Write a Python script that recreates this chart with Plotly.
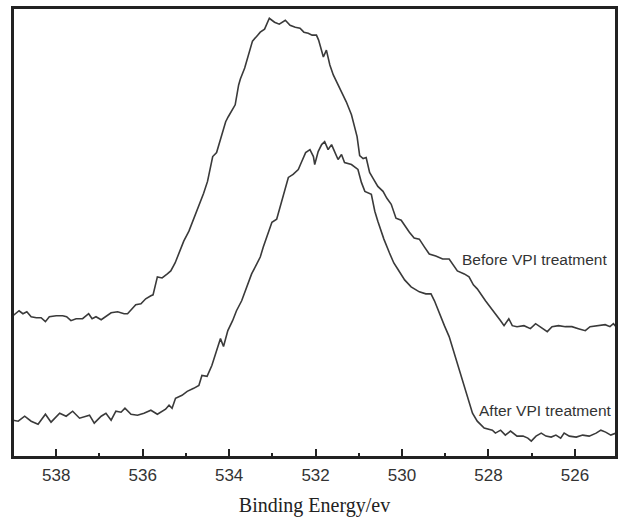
import plotly.graph_objects as go

# Binding energy (eV) and intensity (a.u.)
before_ev = [539.00, 538.86, 538.77, 538.68, 538.58, 538.46, 538.35, 538.25, 538.16, 538.00,
             537.85, 537.76, 537.66, 537.54, 537.39, 537.25, 537.17, 537.08, 536.96, 536.85,
             536.73, 536.58, 536.43, 536.35, 536.27, 536.16, 536.04, 535.93, 535.81, 535.76,
             535.66, 535.55, 535.43, 535.35, 535.25, 535.16, 535.05, 534.93, 534.82, 534.70,
             534.59, 534.50, 534.38, 534.29, 534.20, 534.08, 534.02, 533.86, 533.78, 533.74,
             533.64, 533.55, 533.46, 533.34, 533.28, 533.18, 533.07, 532.95, 532.84, 532.70,
             532.59, 532.47, 532.36, 532.27, 532.17, 532.08, 531.98, 531.93, 531.86, 531.82,
             531.75, 531.67, 531.59, 531.48, 531.36, 531.29, 531.17, 531.09, 531.04, 530.98,
             530.90, 530.83, 530.75, 530.67, 530.56, 530.44, 530.35, 530.25, 530.14, 530.02,
             529.92, 529.83, 529.72, 529.60, 529.48, 529.37, 529.22, 529.06, 528.91, 528.81,
             528.72, 528.56, 528.45, 528.35, 528.26, 528.07, 527.87, 527.72, 527.64, 527.53,
             527.45, 527.34, 527.18, 527.03, 526.91, 526.80, 526.64, 526.53, 526.38, 526.22,
             526.07, 525.92, 525.76, 525.65, 525.49, 525.30, 525.19, 525.11, 525.05]
before_int = [142, 147, 144, 146, 141, 140, 140, 136, 141, 142,
              142, 141, 137, 139, 139, 144, 139, 141, 138, 141,
              145, 146, 144, 144, 148, 153, 154, 159, 162, 163,
              181, 180, 184, 187, 195, 205, 217, 227, 239, 252,
              265, 277, 302, 306, 319, 337, 342, 354, 374, 380,
              391, 405, 418, 424, 427, 430, 441, 437, 435, 439,
              434, 432, 431, 427, 426, 424, 424, 419, 407, 402,
              409, 394, 384, 374, 364, 357, 344, 332, 322, 303,
              300, 301, 286, 280, 272, 267, 260, 254, 240, 238,
              231, 226, 220, 219, 211, 204, 202, 199, 199, 193,
              187, 184, 181, 173, 169, 157, 146, 137, 132, 139,
              132, 131, 132, 129, 134, 131, 126, 131, 132, 131,
              131, 129, 127, 131, 132, 133, 131, 134, 131]

after_ev = [539.00, 538.88, 538.73, 538.58, 538.42, 538.25, 538.12, 537.92, 537.77, 537.62,
            537.46, 537.23, 537.12, 536.96, 536.85, 536.73, 536.62, 536.50, 536.41, 536.27,
            536.12, 535.97, 535.81, 535.66, 535.47, 535.39, 535.32, 535.24, 535.09, 534.97,
            534.82, 534.70, 534.63, 534.51, 534.40, 534.28, 534.20, 534.13, 534.03, 533.92,
            533.83, 533.71, 533.59, 533.48, 533.36, 533.28, 533.21, 533.09, 533.01, 532.90,
            532.82, 532.75, 532.63, 532.52, 532.40, 532.32, 532.23, 532.13, 532.05, 532.02,
            531.94, 531.86, 531.79, 531.71, 531.63, 531.56, 531.48, 531.40, 531.33, 531.17,
            531.02, 530.94, 530.86, 530.71, 530.63, 530.56, 530.42, 530.29, 530.19, 530.10,
            529.94, 529.79, 529.60, 529.45, 529.33, 529.25, 529.14, 529.02, 528.91, 528.79,
            528.68, 528.56, 528.45, 528.37, 528.26, 528.10, 527.91, 527.84, 527.72, 527.61,
            527.49, 527.34, 527.20, 527.09, 527.01, 526.90, 526.78, 526.67, 526.55, 526.44,
            526.33, 526.25, 526.13, 525.97, 525.82, 525.67, 525.51, 525.40, 525.29, 525.17,
            525.05]
after_int = [37, 36, 41, 36, 33, 43, 35, 44, 41, 46,
             39, 42, 34, 41, 44, 37, 46, 45, 49, 43,
             42, 44, 47, 43, 48, 52, 49, 59, 62, 66,
             69, 72, 82, 81, 92, 107, 119, 111, 127, 137,
             147, 157, 171, 184, 194, 201, 211, 227, 236, 239,
             251, 262, 281, 284, 289, 297, 306, 309, 302, 294,
             307, 314, 317, 309, 314, 307, 299, 304, 296, 294,
             289, 276, 267, 264, 247, 237, 219, 205, 195, 189,
             178, 171, 166, 164, 164, 157, 144, 132, 121, 104,
             87, 72, 56, 44, 36, 29, 27, 24, 27, 22,
             26, 21, 21, 19, 16, 21, 24, 21, 20, 22,
             19, 24, 21, 20, 22, 21, 24, 27, 25, 22,
             24]

x_ticks = [538, 536, 534, 532, 530, 528, 526]
labels = ["Before VPI treatment", "After VPI treatment"]
label_ev = [526.94, 526.70]
label_int = [199, 47]

line_color = "#3a3a3a"
fig = go.Figure()
fig.add_trace(go.Scatter(x=before_ev, y=before_int, mode="lines",
                         line=dict(color=line_color, width=1.6), showlegend=False))
fig.add_trace(go.Scatter(x=after_ev, y=after_int, mode="lines",
                         line=dict(color=line_color, width=1.6), showlegend=False))

for t, xe, yi in zip(labels, label_ev, label_int):
    fig.add_annotation(x=xe, y=yi, text=t, showarrow=False,
                       font=dict(family="Arial, Liberation Sans, sans-serif", size=15.5, color="#333333"))

# frame around the plotting area
fig.add_shape(type="rect", xref="paper", yref="paper", x0=0, y0=0, x1=1, y1=1,
              line=dict(color="#222222", width=2), layer="above")

fig.update_layout(
    width=624, height=520,
    margin=dict(l=13, r=6, t=6, b=63),
    paper_bgcolor="white", plot_bgcolor="white",
    xaxis=dict(
        range=[539, 525.05], tickmode="array", tickvals=x_ticks,
        ticktext=[str(v) for v in x_ticks],
        ticks="inside", ticklen=8, tickwidth=2, tickcolor="#222222",
        ticklabelstandoff=2,
        minor=dict(ticks="inside", ticklen=4, tickwidth=1.5, tickcolor="#222222", dtick=1, showgrid=False),
        showgrid=False, zeroline=False,
        showline=True, linewidth=2, linecolor="#222222", mirror=True,
        tickfont=dict(family="Arial, Liberation Sans, sans-serif", size=17, color="#333333"),
        title=dict(text="Binding Energy/ev", standoff=14,
                   font=dict(family="Times New Roman, Liberation Serif, serif", size=20, color="#222222")),
    ),
    yaxis=dict(
        range=[0, 451.3], showticklabels=False, ticks="", showgrid=False, zeroline=False,
        showline=True, linewidth=2, linecolor="#222222", mirror=True,
    ),
)

fig.write_html("out.html", config={"displayModeBar": False},
               post_script="document.body.style.margin='0';document.body.style.overflow='hidden';")
